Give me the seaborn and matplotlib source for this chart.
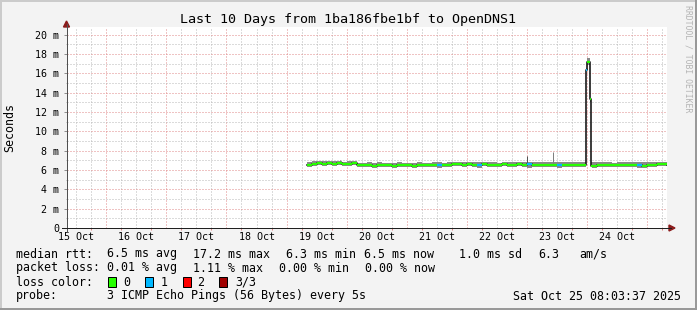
import numpy as np
import pandas as pd
import matplotlib
matplotlib.use("Agg")
import matplotlib.pyplot as plt
import matplotlib.dates as mdates
from matplotlib.ticker import MultipleLocator, FuncFormatter
from matplotlib.patches import Rectangle, Polygon
from matplotlib.lines import Line2D
import seaborn as sns

# ---------------- data ----------------
title = "Last 10 Days from 1ba186fbe1bf to OpenDNS1"
window_start = "2025-10-15 08:03:37"
window_end = "2025-10-25 08:03:37"

# regular 2-hour samples, starting 2025-10-19 08:00
reg_start = "2025-10-19 08:00"
median_ms = [
    6.5, 6.6, 6.7, 6.6, 6.7, 6.6, 6.7, 6.6, 6.6, 6.7,
    6.5, 6.5, 6.5, 6.4, 6.5, 6.5, 6.5, 6.4, 6.5, 6.5,
    6.5, 6.4, 6.5, 6.5, 6.5, 6.5, 6.5, 6.5, 6.5, 6.6,
    6.6, 6.5, 6.6, 6.5, 6.5, 6.6, 6.5, 6.5, 6.5, 6.6,
    6.5, 6.5, 6.6, 6.5, 6.6, 6.5, 6.5, 6.5, 6.5, 6.5,
    6.5, 6.5, 6.5, 6.5, 6.5, 6.5, 17.2, 6.4, 6.5, 6.5,
    6.5, 6.5, 6.5, 6.5, 6.5, 6.5, 6.5, 6.4, 6.5, 6.5,
    6.6, 6.6, 6.5,
]
smoke_lo_ms = [
    6.3, 6.4, 6.5, 6.4, 6.5, 6.4, 6.5, 6.4, 6.4, 6.5,
    6.3, 6.3, 6.3, 6.2, 6.3, 6.3, 6.3, 6.2, 6.3, 6.3,
    6.3, 6.2, 6.3, 6.3, 6.3, 6.3, 6.2, 6.3, 6.3, 6.4,
    6.4, 6.3, 6.4, 6.3, 6.2, 6.4, 6.3, 6.3, 6.3, 6.4,
    6.3, 6.3, 6.4, 6.3, 6.2, 6.3, 6.3, 6.3, 6.3, 6.3,
    6.2, 6.3, 6.3, 6.3, 6.3, 6.3, 16.9, 6.2, 6.3, 6.3,
    6.3, 6.3, 6.3, 6.3, 6.3, 6.3, 6.2, 6.2, 6.3, 6.3,
    6.4, 6.4, 6.3,
]
smoke_hi_ms = [
    6.8, 6.9, 6.9, 6.9, 6.9, 6.9, 6.9, 6.8, 6.9, 6.9,
    6.7, 6.7, 6.8, 6.7, 6.8, 6.7, 6.7, 6.7, 6.8, 6.7,
    6.7, 6.7, 6.8, 6.7, 6.7, 6.8, 6.8, 6.7, 6.8, 6.8,
    6.8, 6.8, 6.8, 6.8, 6.8, 6.8, 6.8, 6.8, 6.7, 6.8,
    6.8, 6.8, 6.8, 6.8, 6.8, 6.8, 6.8, 6.8, 6.8, 6.8,
    6.8, 6.8, 6.8, 6.8, 6.8, 6.8, 17.6, 6.8, 6.8, 6.8,
    6.8, 6.7, 6.8, 6.8, 6.8, 6.8, 6.8, 6.8, 6.8, 6.8,
    6.8, 6.8, 6.8,
]
loss_count = [
    0, 0, 0, 0, 0, 0, 0, 0, 0, 0,
    0, 0, 0, 0, 0, 0, 0, 0, 0, 0,
    0, 0, 0, 0, 0, 0, 1, 0, 0, 0,
    0, 0, 0, 0, 1, 0, 0, 0, 0, 0,
    0, 0, 0, 0, 1, 0, 0, 0, 0, 0,
    1, 0, 0, 0, 0, 0, 0, 0, 0, 0,
    0, 0, 0, 0, 0, 0, 1, 0, 0, 0,
    0, 0, 0,
]

# extra samples around the latency spike near midnight on 24 Oct
spike_times = ["2025-10-23 23:50", "2025-10-24 01:20", "2025-10-24 01:35"]
spike_ms = [16.4, 13.3, 6.4]
spike_lo_ms = [16.2, 13.0, 6.3]
spike_hi_ms = [16.6, 13.5, 6.8]
spike_loss = [1, 0, 0]

# isolated slow pings (thin smoke peaks)
peak_times = ["2025-10-19 21:30", "2025-10-23 00:15", "2025-10-23 10:30"]
peak_ms = [7.0, 7.45, 7.9]
peak_colors = ["#777777", "#555555", "#808080"]

loss_colors = {0: "#26ff00", 1: "#00b8ff", 2: "#ff0000", 3: "#a00000"}
loss_labels = ["0", "1", "2", "3/3"]

legend_rows = [
    [("median rtt:", 16), ("6.5 ms avg", 107), ("17.2 ms max", 193), ("6.3 ms min", 286),
     ("6.5 ms now", 364), ("1.0 ms sd", 459), ("6.3", 538), ("am/s", 579)],
    [("packet loss:", 16), ("0.01 % avg", 107), ("1.11 % max", 193), ("0.00 % min", 279),
     ("0.00 % now", 365)],
    [("loss color:", 16)],
    [("probe:", 16), ("3 ICMP Echo Pings (56 Bytes) every 5s", 107)],
]
stamp = "Sat Oct 25 08:03:37 2025"

# ---------------- build frame ----------------
reg_times = pd.date_range(reg_start, periods=len(median_ms), freq="2h")
df = pd.DataFrame({
    "t": list(reg_times) + list(pd.to_datetime(spike_times)),
    "median": median_ms + spike_ms,
    "lo": smoke_lo_ms + spike_lo_ms,
    "hi": smoke_hi_ms + spike_hi_ms,
    "loss": loss_count + spike_loss,
}).sort_values("t").reset_index(drop=True)
df["x"] = mdates.date2num(df["t"].dt.to_pydatetime())

# ---------------- figure ----------------
plt.rcParams["font.family"] = ["DejaVu Sans Mono"]
W, H = 697, 310
fig = plt.figure(figsize=(W / 100, H / 100), dpi=100, facecolor="#f3f3f3")


def fx(x):
    return x / W


def fy(y):
    return 1 - y / H


L, R, T, B = 66.5, 667.0, 27.0, 228.0
ax = fig.add_axes([fx(L), fy(B), (R - L) / W, (B - T) / H])
ax.set_facecolor("white")
for s in ax.spines.values():
    s.set_visible(False)

x0 = mdates.date2num(pd.Timestamp(window_start).to_pydatetime())
x1 = mdates.date2num(pd.Timestamp(window_end).to_pydatetime())
ax.set_xlim(x0, x1)
ax.set_ylim(0, 20.8)

px = 0.72  # one pixel in points
grey = "#b8b8b8"
red = "#e08888"
dot = (0, (1, 2))
gkw = dict(lw=px, linestyle=dot)

# y grid
ax.yaxis.set_major_locator(MultipleLocator(2))
ax.yaxis.set_minor_locator(MultipleLocator(1))
ax.yaxis.set_major_formatter(FuncFormatter(lambda v, p: "0" if v == 0 else f"{int(round(v))} m"))
ax.grid(which="major", axis="y", color=red, zorder=0, **gkw)
ax.grid(which="minor", axis="y", color=grey, zorder=0, **gkw)

# x grid: labels at noon, grey every 6h, red at midnight
ax.xaxis.set_major_locator(mdates.HourLocator(byhour=[12]))
ax.xaxis.set_major_formatter(mdates.DateFormatter("%d Oct"))
ax.xaxis.set_minor_locator(mdates.HourLocator(byhour=[6, 18]))
ax.grid(which="major", axis="x", color=grey, zorder=0, **gkw)
ax.grid(which="minor", axis="x", color=grey, zorder=0, **gkw)
for d in pd.date_range("2025-10-16", "2025-10-25", freq="D"):
    ax.axvline(mdates.date2num(d.to_pydatetime()), color=red, zorder=0.5, **gkw)
ax.set_axisbelow(True)

ax.tick_params(axis="y", which="major", length=3 * px, width=px, color="#909090",
               pad=4.5 * px, labelsize=7.2, labelcolor="#000000")
ax.tick_params(axis="y", which="minor", length=1.5 * px, width=px, color="#b0b0b0")
ax.tick_params(axis="x", which="major", length=0, pad=4 * px, labelsize=7.2)
ax.tick_params(axis="x", which="minor", length=2 * px, width=px, color="#e08080")

# smoke
ax.fill_between(df["x"], df["lo"], df["hi"], step="post", color="#8a8a8a", lw=0, zorder=2)
ax.vlines(mdates.date2num(pd.to_datetime(peak_times).to_pydatetime()), 6.6, peak_ms,
          colors=peak_colors, lw=px, zorder=2)

# median (black step line) with loss colored segments on top
sns.lineplot(data=df, x="x", y="median", ax=ax, color="#111111", lw=1.6 * px,
             drawstyle="steps-post", estimator=None, zorder=3)
seg_colors = [loss_colors[v] for v in df["loss"].iloc[:-1]]
ax.hlines(df["median"].iloc[:-1], df["x"].iloc[:-1].values, df["x"].iloc[1:].values,
          colors=seg_colors, lw=2.2 * px, zorder=4)
ax.set_xlabel("")
ax.set_ylabel("")

# axis lines and arrows (pixel coordinates)
fig.add_artist(Line2D([fx(L), fx(L)], [fy(232), fy(24)], color="#505050", lw=px))
fig.add_artist(Line2D([fx(62), fx(671)], [fy(B), fy(B)], color="#202020", lw=px))
arrow_c = "#8c1c1c"
fig.add_artist(Polygon([[fx(L - 3), fy(27)], [fx(L + 3), fy(27)], [fx(L), fy(21)]],
                       closed=True, color=arrow_c, transform=fig.transFigure))
fig.add_artist(Polygon([[fx(669), fy(B - 3)], [fx(669), fy(B + 3)], [fx(675), fy(B)]],
                       closed=True, color=arrow_c, transform=fig.transFigure))

# texts
fig.text(fx(348), fy(20), title, ha="center", va="center", fontsize=9.6)
fig.text(fx(10), fy(128), "Seconds", rotation=90, ha="center", va="center", fontsize=8.4)
fig.text(fx(688), fy(5), "RRDTOOL / TOBI OETIKER", rotation=270, ha="center", va="top",
         fontsize=5.9, color="#b4b4b4")

row_y = [254, 268, 282, 296]
for row, yy in zip(legend_rows, row_y):
    for txt, xx in row:
        fig.text(fx(xx), fy(yy), txt, ha="left", va="center", fontsize=8.4)
fig.text(fx(681), fy(296), stamp, ha="right", va="center", fontsize=8.4)

box_x = [108, 145, 183, 219]
lab_x = [123, 161, 197, 235]
for i, lab in enumerate(loss_labels):
    fig.add_artist(Rectangle((fx(box_x[i]), fy(287)), 8 / W, 10 / H, facecolor=loss_colors[i],
                             edgecolor="black", lw=px, transform=fig.transFigure))
    fig.text(fx(lab_x[i]), fy(282), lab, ha="left", va="center", fontsize=8.4)

# frame (3d style border)
fig.add_artist(Rectangle((0, fy(2)), 1, 2 / H, color="#cbcbcb", transform=fig.transFigure, lw=0))
fig.add_artist(Rectangle((0, 0), 2 / W, 1, color="#cbcbcb", transform=fig.transFigure, lw=0))
fig.add_artist(Rectangle((0, 0), 1, 2 / H, color="#999999", transform=fig.transFigure, lw=0))
fig.add_artist(Rectangle((fx(695), 0), 2 / W, 1, color="#999999", transform=fig.transFigure, lw=0))

fig.savefig("out.png", dpi=100, facecolor=fig.get_facecolor())
